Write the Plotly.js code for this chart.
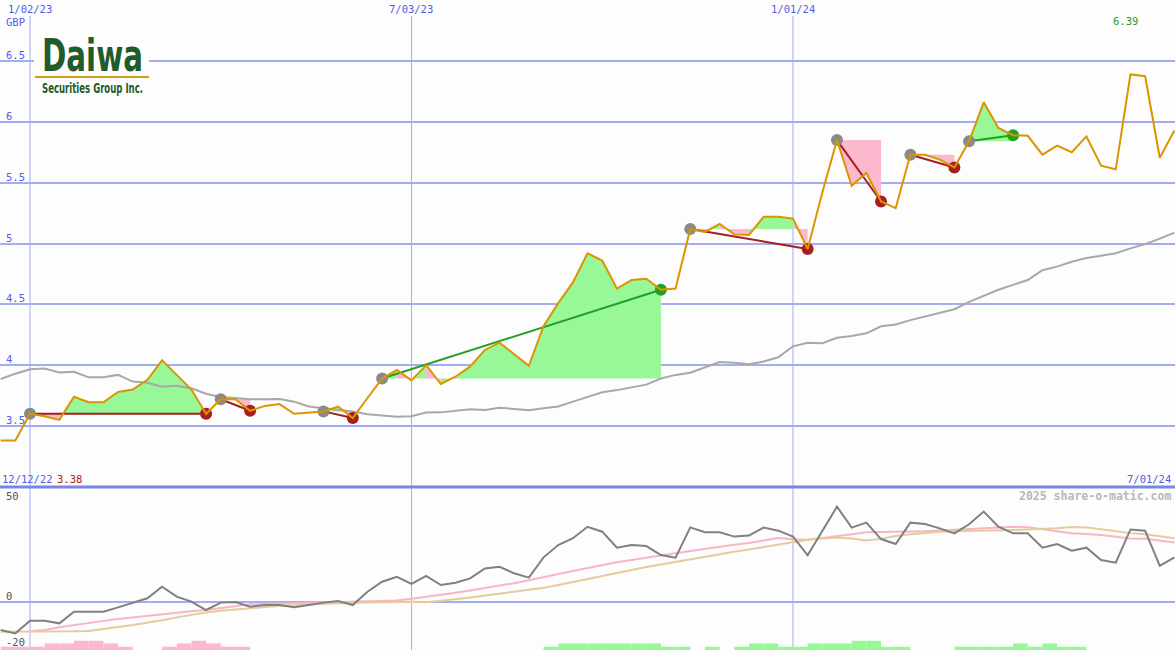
<!DOCTYPE html>
<html>
<head>
<meta charset="utf-8">
<script src="https://cdn.plot.ly/plotly-3.0.1.min.js"></script>
<style>
  html, body { margin: 0; padding: 0; background: #fcfdfc; }
  #chart { width: 1175px; height: 650px; }
</style>
</head>
<body>
<div id="chart"></div>
<script>
// Weekly closes, Daiwa Securities Group (GBP), week of 19 Dec 2022 onwards
const firstWeek = '2022-12-19';
const closes = [3.38,3.38,3.60,3.58,3.55,3.74,3.695,3.695,3.78,3.80,3.88,4.04,3.92,3.80,3.60,3.72,3.72,3.625,3.665,3.68,3.60,3.61,3.62,3.66,3.565,3.73,3.89,3.96,3.875,4.00,3.845,3.905,3.99,4.125,4.185,4.09,3.995,4.32,4.51,4.68,4.92,4.86,4.63,4.70,4.71,4.62,4.63,5.12,5.095,5.16,5.075,5.07,5.22,5.22,5.205,4.955,5.42,5.85,5.475,5.58,5.345,5.29,5.73,5.73,5.69,5.625,5.84,6.16,5.95,5.89,5.885,5.73,5.805,5.75,5.88,5.64,5.61,6.39,6.375,5.705,5.93];
// Moving average of the close
const average = [3.886,3.93,3.966,3.972,3.94,3.945,3.90,3.90,3.92,3.865,3.856,3.823,3.83,3.81,3.765,3.736,3.73,3.72,3.72,3.722,3.70,3.66,3.645,3.635,3.62,3.597,3.585,3.577,3.58,3.61,3.612,3.625,3.637,3.632,3.65,3.64,3.63,3.645,3.66,3.70,3.74,3.777,3.795,3.815,3.84,3.89,3.92,3.938,3.98,4.026,4.02,4.007,4.03,4.065,4.155,4.185,4.18,4.225,4.24,4.262,4.32,4.335,4.37,4.40,4.43,4.46,4.52,4.57,4.62,4.66,4.70,4.78,4.81,4.85,4.88,4.90,4.92,4.96,4.995,5.04,5.09];

// Lower panel: oscillator and its two smoothings
const oscillator = [-13.7,-15.3,-9.1,-9.1,-10.4,-4.7,-4.7,-4.7,-2.6,-0.3,1.8,7.5,2.6,0.2,-3.9,-0.3,0.0,-2.3,-1.5,-1.5,-2.6,-1.5,-0.3,0.5,-1.5,5.0,9.9,12.3,8.8,12.7,8.3,9.4,11.5,16.4,17.2,14.0,11.9,21.8,27.8,31.1,36.7,34.3,26.5,27.8,27.3,22.9,21.6,36.4,34.0,34.0,31.9,32.4,36.3,34.8,31.9,22.8,35.0,46.5,36.3,38.7,30.7,28.3,38.7,38.0,35.9,33.5,37.9,44.1,36.7,33.5,33.5,26.5,28.3,25.0,26.5,20.5,19.2,35.4,34.8,17.6,21.8];
const signalFast = [null,null,-14.3,-13.6,-12.3,-11.2,-10.2,-9.2,-8.3,-7.5,-6.7,-5.9,-5.2,-4.5,-3.9,-2.9,-2.0,-1.1,-1.0,-0.8,-0.7,-0.6,-0.4,-0.3,0.0,0.3,0.5,0.7,1.6,2.5,3.4,4.5,5.6,6.7,7.8,9.2,10.6,12.0,13.5,15.1,16.6,18.1,19.4,20.5,21.5,22.6,23.8,24.9,26.0,27.0,27.9,28.8,30.0,31.2,30.6,30.4,31.2,32.0,33.0,34.0,34.1,34.0,34.1,34.5,34.9,35.2,35.5,35.9,36.3,36.7,36.5,35.5,34.3,33.6,33.2,32.7,31.8,31.0,30.8,30.0,29.0];
const signalSlow = [-14.5,-14.5,-14.5,-14.5,-14.4,-14.3,-14.1,-13.3,-12.2,-11.2,-10.2,-8.9,-7.5,-6.2,-5.1,-4.3,-3.6,-3.0,-2.4,-2.0,-1.6,-1.2,-0.9,-0.6,-0.4,-0.2,0.0,0.2,0.1,-0.1,0.5,1.3,2.2,3.1,3.9,4.8,5.8,6.9,8.3,9.8,11.3,12.8,14.3,15.8,17.1,18.3,19.6,20.9,22.2,23.3,24.5,25.6,26.8,28.0,29.2,30.4,31.0,31.5,31.0,30.0,30.8,32.2,33.0,33.6,34.3,34.5,34.6,34.6,34.8,35.1,35.4,35.6,36.0,36.6,36.4,35.5,34.5,33.6,33.0,32.0,31.1];
// Small histogram along the bottom edge
const barsDown = [1.6,1.6,1.6,3.2,3.2,4.5,4.5,3.2,1.6,0,0,1.6,3.2,4.5,3.2,1.6,1.6,0,0,0,0,0,0,0,0,0,0,0,0,0,0,0,0,0,0,0,0,0,0,0,0,0,0,0,0,0,0,0,0,0,0,0,0,0,0,0,0,0,0,0,0,0,0,0,0,0,0,0,0,0,0,0,0,0,0,0,0,0,0,0,0];
const barsUp = [0,0,0,0,0,0,0,0,0,0,0,0,0,0,0,0,0,0,0,0,0,0,0,0,0,0,0,0,0,0,0,0,0,0,0,0,0,1.6,3.2,3.2,3.2,3.2,3.2,3.2,3.2,1.6,1.6,0,1.6,0,1.6,3.2,3.2,1.6,1.6,3.2,3.2,3.2,4.5,4.5,1.6,1.6,0,0,0,1.6,1.6,1.6,1.6,3.2,1.6,3.2,1.6,1.6,0,0,0,0,0,0,0];

// Swings: start week index, end week index, direction
const swingStart = [2, 15, 22, 26, 47, 57, 62, 66];
const swingEnd   = [14, 17, 24, 45, 55, 60, 65, 69];
const swingDir   = ['down','down','down','up','down','down','down','up'];

// Date gridlines and their labels
const gridDates  = ['2023-01-02', '2023-07-03', '2024-01-01'];
const gridLabels = ['1/02/23', '7/03/23', '1/01/24'];
const priceTicks = [3.5, 4, 4.5, 5, 5.5, 6, 6.5];

const DAY = 86400000;
const t0 = Date.parse(firstWeek + 'T00:00:00Z');
const weeks = closes.map((_, i) => new Date(t0 + i * 7 * DAY).toISOString().slice(0, 10));

const W = 1175, H = 650;
const px = x => x / W;
const py = y => 1 - y / H;
const split = 1 - 487 / H;            // boundary between the two panels
const lowRange = [-23.41, 56.10];

const mono = 'DejaVu Sans Mono, Liberation Mono, monospace';
const narrow = 'Liberation Sans Narrow, DejaVu Sans Condensed, sans-serif';
const BLUE = '#4f5fe6';

// Shaded areas between each swing's starting level and the close
const fillUp = { x: [], y: [] }, fillDown = { x: [], y: [] };
const lineUp = { x: [], y: [] }, lineDown = { x: [], y: [] };
const dotStart = { x: [], y: [] }, dotUp = { x: [], y: [] }, dotDown = { x: [], y: [] };
swingStart.forEach((s, n) => {
  const e = swingEnd[n], base = closes[s];
  for (let i = s; i < e; i++) {
    const tgt = closes[i + 1] >= base ? fillUp : fillDown;
    tgt.x.push(weeks[i], weeks[i], weeks[i + 1], weeks[i + 1], weeks[i], null);
    tgt.y.push(base, closes[i], closes[i + 1], base, base, null);
  }
  const ln = swingDir[n] === 'up' ? lineUp : lineDown;
  ln.x.push(weeks[s], weeks[e], null);
  ln.y.push(closes[s], closes[e], null);
  dotStart.x.push(weeks[s]); dotStart.y.push(closes[s]);
  const d = swingDir[n] === 'up' ? dotUp : dotDown;
  d.x.push(weeks[e]); d.y.push(closes[e]);
});

const traces = [
  { x: fillUp.x, y: fillUp.y, mode: 'none', fill: 'toself', fillcolor: '#98f898', hoverinfo: 'skip' },
  { x: fillDown.x, y: fillDown.y, mode: 'none', fill: 'toself', fillcolor: '#fcb8cc', hoverinfo: 'skip' },
  { x: weeks, y: average, mode: 'lines', line: { color: '#a8a8a8', width: 2 } },
  { x: lineDown.x, y: lineDown.y, mode: 'lines', line: { color: '#a61e1e', width: 2 } },
  { x: lineUp.x, y: lineUp.y, mode: 'lines', line: { color: '#22a022', width: 2 } },
  { x: dotStart.x, y: dotStart.y, mode: 'markers', marker: { color: '#8a8a8a', size: 12 } },
  { x: dotDown.x, y: dotDown.y, mode: 'markers', marker: { color: '#a61e1e', size: 12 } },
  { x: dotUp.x, y: dotUp.y, mode: 'markers', marker: { color: '#22a022', size: 12 } },
  { x: weeks, y: closes, mode: 'lines', line: { color: '#dc9400', width: 2 } },

  { x: weeks, y: barsDown.map(v => v || null), type: 'bar', xaxis: 'x2', yaxis: 'y2',
    base: lowRange[0], width: 7 * DAY, offset: 0, marker: { color: '#fcb8cc', line: { width: 0 } } },
  { x: weeks, y: barsUp.map(v => v || null), type: 'bar', xaxis: 'x2', yaxis: 'y2',
    base: lowRange[0], width: 7 * DAY, offset: 0, marker: { color: '#98f898', line: { width: 0 } } },
  { x: weeks, y: signalFast, mode: 'lines', xaxis: 'x2', yaxis: 'y2', line: { color: '#f8b4c8', width: 2 } },
  { x: weeks, y: signalSlow, mode: 'lines', xaxis: 'x2', yaxis: 'y2', line: { color: '#e4cc9c', width: 2 } },
  { x: weeks, y: oscillator, mode: 'lines', xaxis: 'x2', yaxis: 'y2', line: { color: '#808080', width: 2 } }
];

const xRange = ['2022-12-18 16:30', '2024-07-01 06:00'];
const gridColor = '#a4acf2';

const annotations = [];
const label = (text, x, y, o = {}) => annotations.push(Object.assign({
  text, x, y, xref: 'paper', yref: 'paper', showarrow: false,
  xanchor: 'left', yanchor: 'middle',
  font: { family: mono, size: 10.5, color: BLUE }
}, o));

gridDates.forEach((d, i) => label(gridLabels[i], d, py(9), { xref: 'x', xanchor: 'center' }));
label('GBP', px(4), py(21.5));
label(Math.max(...closes).toFixed(2), px(1125), py(21), { xanchor: 'center', font: { family: mono, size: 10.5, color: '#22a022' } });
label('12/12/22', px(0), py(479));
label(Math.min(...closes).toFixed(2), px(55), py(479), { font: { family: mono, size: 10.5, color: '#a61e1e' } });
label('7/01/24', px(1173), py(479), { xanchor: 'right' });
priceTicks.forEach(v => label(String(v), px(4), v, { yref: 'y', yshift: 6 }));
[[50, 3.5], [0, 6], [-20, 1]].forEach(([v, s]) =>
  label(String(v), px(4), v, { yref: 'y2', yshift: s, font: { family: mono, size: 10.5, color: '#555555' } }));
label('<b>2025 share-o-matic.com</b>', px(1173), py(496), { xanchor: 'right', font: { family: mono, size: 11.5, color: '#b8b8b8' } });

// Logo lettering: name and subtitle, condensed to a common width
const logoLines = [
  { text: 'Daiwa', size: 44, baseline: 71 },
  { text: 'Securities Group Inc.', size: 13.5, baseline: 92.5 }
];
const logoLeft = 42, logoWidth = 101;
logoLines.forEach(l => label('<b>' + l.text + '</b>', px(logoLeft), py(l.baseline - l.size * 0.3),
  { font: { family: narrow, size: l.size, color: '#1f5b2b' } }));

const shapes = [
  ...gridDates.map(d => ({ type: 'line', xref: 'x', yref: 'paper', x0: d, x1: d, y0: 0, y1: py(16),
    line: { color: gridColor, width: 1 }, layer: 'below' })),
  { type: 'line', xref: 'paper', yref: 'paper', x0: 0, x1: 1, y0: split, y1: split, line: { color: '#7a85ea', width: 3 } },
  { type: 'rect', xref: 'paper', yref: 'paper', x0: px(34), x1: px(149), y0: py(100), y1: py(30),
    fillcolor: '#fcfdfc', line: { width: 0 } },
  { type: 'line', xref: 'paper', yref: 'paper', x0: px(35), x1: px(149), y0: py(77), y1: py(77),
    line: { color: '#d49a1a', width: 2 } }
];

const layout = {
  width: W, height: H,
  margin: { l: 0, r: 0, t: 0, b: 0, pad: 0 },
  paper_bgcolor: '#fcfdfc', plot_bgcolor: '#fcfdfc',
  showlegend: false, barmode: 'overlay',
  xaxis: { type: 'date', range: xRange, domain: [0, 1], anchor: 'y', visible: false, showgrid: false },
  xaxis2: { type: 'date', range: xRange, domain: [0, 1], anchor: 'y2', visible: false, showgrid: false },
  yaxis: { domain: [split, 1], range: [2.9986, 7.0014], tickmode: 'array', tickvals: priceTicks,
    showgrid: true, gridcolor: gridColor, gridwidth: 2, zeroline: false, showticklabels: false, ticks: '', showline: false },
  yaxis2: { domain: [0, split], range: lowRange, tickmode: 'array', tickvals: [0],
    showgrid: true, gridcolor: gridColor, gridwidth: 2, zeroline: false, showticklabels: false, ticks: '', showline: false },
  annotations, shapes
};

Plotly.newPlot('chart', traces, layout, { staticPlot: true, displayModeBar: false }).then(gd => {
  const r = gd.getBoundingClientRect();
  gd.querySelectorAll('.annotation-text').forEach(t => {
    const line = logoLines.find(l => l.text === t.textContent);
    if (!line) return;
    t.setAttribute('textLength', logoWidth);
    t.setAttribute('lengthAdjust', 'spacingAndGlyphs');
    // move the first glyph's baseline origin to the logo's left edge / baseline
    const p = t.getStartPositionOfChar(0);
    const m = t.getScreenCTM();
    const sx = m.a * p.x + m.c * p.y + m.e - r.left;
    const sy = m.b * p.x + m.d * p.y + m.f - r.top;
    t.setAttribute('transform', `translate(${logoLeft - sx},${line.baseline - sy})`);
  });
});
</script>
</body>
</html>
